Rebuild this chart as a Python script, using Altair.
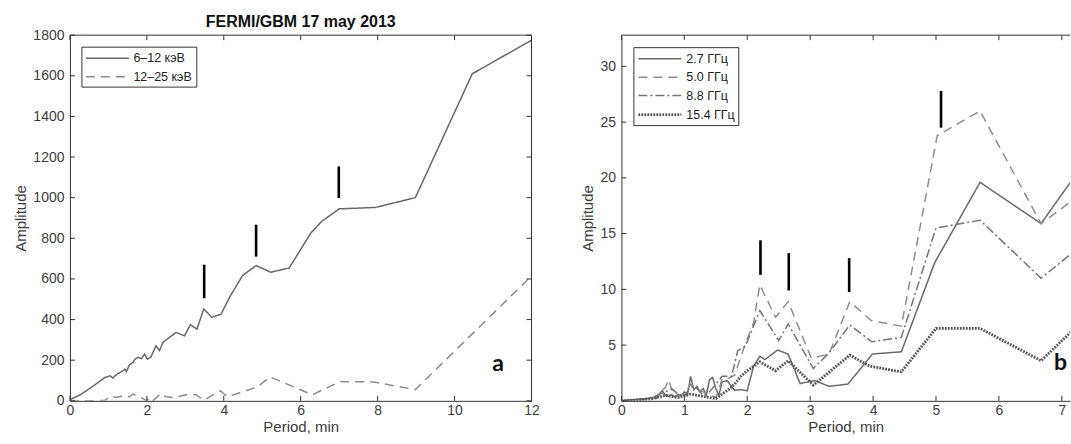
import altair as alt
import pandas as pd

# ---------------- Panel a: FERMI/GBM 17 may 2013 ----------------
a_series = ["6–12 кэВ", "12–25 кэВ"]
a_colors = ["#686868", "#8c8c8c"]
a_dashes = [[1, 0], [9, 6]]
a_widths = [1.5, 1.5]

a_x_6_12 = [0, 0.3, 0.65, 0.91, 1.04, 1.12, 1.17, 1.3, 1.38, 1.43, 1.47, 1.55, 1.64, 1.69,
            1.77, 1.86, 1.94, 2.01, 2.1, 2.24, 2.33, 2.42, 2.76, 2.98, 3.13, 3.3, 3.48, 3.69,
            3.93, 4.15, 4.49, 4.84, 5.22, 5.7, 6.26, 6.55, 7.0, 7.94, 8.98, 10.46, 12.0]
a_y_6_12 = [5, 33, 79, 115, 123, 112, 123, 140, 148, 156, 145, 178, 189, 205,
            214, 208, 230, 205, 214, 271, 247, 288, 337, 320, 375, 353, 452, 411,
            427, 510, 617, 666, 633, 654, 825, 884, 945, 952, 1000, 1610, 1775]

a_x_12_25 = [0, 0.65, 0.91, 1.08, 1.2, 1.38, 1.55, 1.64, 1.86, 1.99, 2.07, 2.16, 2.36, 2.5,
             2.72, 3.02, 3.28, 3.48, 3.91, 4.1, 4.88, 5.2, 6.3, 7.03, 7.9, 8.98, 12.0]
a_y_12_25 = [0, 0, 3, 25, 16, 25, 20, 33, 16, 0, 16, 0, 36, 20,
             16, 30, 30, 3, 49, 20, 69, 118, 30, 95, 93, 55, 615]

a_marker_x = [3.49, 4.84, 6.99]
a_marker_lo = [505, 710, 998]
a_marker_hi = [670, 867, 1154]

a_xticks = [0, 2, 4, 6, 8, 10, 12]
a_yticks = [0, 200, 400, 600, 800, 1000, 1200, 1400, 1600, 1800]
a_xdomain = [0, 12]
a_ydomain = [0, 1800]
a_letter = ["a"]
a_letter_x = [11.13]
a_letter_y = [180]
a_title = "FERMI/GBM 17 may 2013"

# ---------------- Panel b: radio ----------------
b_series = ["2.7 ГГц", "5.0 ГГц", "8.8 ГГц", "15.4 ГГц"]
b_colors = ["#6a6a6a", "#8e8e8e", "#747474", "#555555"]
b_dashes = [[1, 0], [9, 6], [9, 3, 2, 3], [1.8, 1.2]]
b_widths = [1.5, 1.5, 1.5, 2.8]

b_x_27 = [0, 0.1, 0.2, 0.3, 0.4, 0.5, 0.55, 0.6, 0.65, 0.7, 0.75, 0.8, 0.85, 0.9, 0.95, 1.0,
          1.05, 1.1, 1.15, 1.2, 1.25, 1.3, 1.35, 1.4, 1.45, 1.5, 1.55, 1.6, 1.68, 1.8, 1.9,
          2.0, 2.1, 2.2, 2.28, 2.48, 2.65, 2.84, 3.0, 3.08, 3.3, 3.6, 3.99, 4.45, 4.98, 5.7,
          6.67, 7.15]
b_y_27 = [0, 0.05, 0.1, 0.15, 0.2, 0.3, 0.2, 0.6, 0.9, 0.5, 0.4, 0.55, 0.35, 0.6, 0.45, 0.8,
          0.5, 2.2, 1.0, 1.3, 0.8, 1.1, 0.5, 1.9, 2.1, 1.1, 0.5, 1.7, 1.8, 0.95, 1.0,
          0.9, 3.1, 4.0, 3.7, 4.55, 4.2, 1.55, 1.75, 1.8, 1.3, 1.5, 4.2, 4.4, 12.4, 19.6,
          15.9, 19.7]

b_x_50 = [0, 0.2, 0.4, 0.5, 0.6, 0.65, 0.7, 0.75, 0.8, 0.9, 1.0, 1.1, 1.2, 1.3, 1.4, 1.5,
          1.55, 1.6, 1.7, 1.8, 1.95, 2.1, 2.2, 2.45, 2.65, 3.02, 3.3, 3.63, 3.97, 4.45, 5.02,
          5.7, 6.67, 7.15]
b_y_50 = [0, 0.1, 0.2, 0.3, 0.5, 1.0, 1.2, 1.9, 1.0, 0.4, 0.6, 1.5, 1.0, 0.8, 0.5, 0.3,
          1.0, 2.0, 2.0, 2.3, 4.8, 7.0, 10.4, 7.5, 8.9, 3.8, 4.2, 8.9, 7.2, 6.7, 23.8,
          26.0, 15.9, 17.9]

b_x_88 = [0, 0.3, 0.5, 0.6, 0.7, 0.8, 0.9, 1.0, 1.1, 1.2, 1.3, 1.4, 1.5, 1.6, 1.75, 1.85,
          1.97, 2.2, 2.5, 2.65, 3.05, 3.3, 3.63, 3.98, 4.45, 5.0, 5.7, 6.67, 7.15]
b_y_88 = [0, 0.1, 0.3, 0.6, 0.8, 1.1, 0.6, 0.4, 1.3, 1.1, 0.5, 0.8, 1.5, 2.2, 2.2, 4.5,
          4.9, 8.1, 5.4, 6.9, 2.9, 4.3, 6.8, 5.3, 5.7, 15.5, 16.2, 11.0, 13.2]

b_x_154 = [0, 0.3, 0.5, 0.7, 0.9, 1.1, 1.3, 1.5, 1.6, 1.7, 1.8, 1.9, 2.0, 2.2, 2.45, 2.65,
           3.05, 3.63, 3.95, 4.45, 5.0, 5.7, 6.67, 7.15]
b_y_154 = [0, 0.1, 0.2, 0.5, 0.3, 0.6, 0.4, 0.2, 0.6, 1.0, 1.5, 2.2, 2.7, 3.5, 2.7, 3.6,
           1.4, 4.1, 3.1, 2.6, 6.5, 6.5, 3.6, 6.2]

b_marker_x = [2.21, 2.66, 3.62, 5.08]
b_marker_lo = [11.3, 9.9, 9.75, 24.5]
b_marker_hi = [14.4, 13.25, 12.8, 27.8]

b_xticks = [0, 1, 2, 3, 4, 5, 6, 7]
b_yticks = [0, 5, 10, 15, 20, 25, 30]
b_xdomain = [0, 7.13]
b_ydomain = [0, 32.8]
b_letter = ["b"]
b_letter_x = [6.98]
b_letter_y = [3.35]

FONT = "Liberation Sans"
AXIS_COLOR = "#333333"
TEXT_COLOR = "#3c3c3c"
TICK_PX = 5
# legend symbol: short nominal size so rows stay compact, long custom path for the line sample
SYM_R = 7
SYM_LEN = 43
SYM_PATH = "M-{0:.3f},0H{0:.3f}".format(SYM_LEN / 2 / SYM_R)
SYM_SHIFT = SYM_LEN / 2 - SYM_R


def lines_frame(names, xs_list, ys_list):
    rows = []
    for name, xs, ys in zip(names, xs_list, ys_list):
        for i, (xv, yv) in enumerate(zip(xs, ys)):
            rows.append({"x": xv, "y": yv, "series": name, "idx": i})
    return pd.DataFrame(rows)


def panel(lines, names, colors, dashes, widths, mk_x, mk_lo, mk_hi, xdom, ydom,
          xticks, yticks, width, height, legend_xy, letter, lx, ly,
          right_frame, right_ticks, title=None):
    xs = alt.Scale(domain=xdom, nice=False, zero=False)
    ys = alt.Scale(domain=ydom, nice=False, zero=False)
    xaxis = alt.Axis(values=xticks, ticks=False, grid=False, format="d",
                     domainColor=AXIS_COLOR, domainWidth=1,
                     labelFontSize=14, labelColor=TEXT_COLOR, labelPadding=3,
                     labelFlush=False, labelOverlap=False, labelFont=FONT,
                     title="Period, min", titleFontSize=15, titleFontWeight="normal",
                     titleColor=TEXT_COLOR, titlePadding=2, titleFont=FONT)
    yaxis = alt.Axis(values=yticks, ticks=False, grid=False, format="d",
                     domainColor=AXIS_COLOR, domainWidth=1,
                     labelFontSize=14, labelColor=TEXT_COLOR, labelPadding=6,
                     labelFlush=False, labelOverlap=False, labelFont=FONT,
                     title="Amplitude", titleFontSize=15, titleFontWeight="normal",
                     titleColor=TEXT_COLOR, titlePadding=4, titleFont=FONT)
    X = alt.X("x:Q", scale=xs, axis=xaxis)
    Y = alt.Y("y:Q", scale=ys, axis=yaxis)

    legend = alt.Legend(orient="none", legendX=legend_xy[0], legendY=legend_xy[1],
                        title=None, symbolType=SYM_PATH, symbolSize=(2 * SYM_R) ** 2,
                        symbolOffset=SYM_SHIFT,
                        labelOffset=SYM_LEN - 2 * SYM_R - SYM_SHIFT + 3.5,
                        labelFontSize=12.5, labelFont=FONT, labelColor="#222222",
                        strokeColor=AXIS_COLOR, fillColor="white", padding=3.5,
                        rowPadding=3.5)

    line = alt.Chart(lines).mark_line(clip=True).encode(
        x=X, y=Y,
        color=alt.Color("series:N", scale=alt.Scale(domain=names, range=colors), legend=legend),
        strokeDash=alt.StrokeDash("series:N", scale=alt.Scale(domain=names, range=dashes),
                                  legend=legend),
        strokeWidth=alt.StrokeWidth("series:N",
                                    scale=alt.Scale(type="ordinal", domain=names, range=widths),
                                    legend=legend),
        order=alt.Order("idx:Q"),
    )

    markers = alt.Chart(pd.DataFrame({"x": mk_x, "y": mk_lo, "y2": mk_hi})).mark_rule(
        color="black", strokeWidth=2.6).encode(x=X, y=Y, y2=alt.Y2("y2:Q"))

    ylen = (ydom[1] - ydom[0]) * TICK_PX / height
    xlen = (xdom[1] - xdom[0]) * TICK_PX / width

    vt = pd.DataFrame({
        "x": list(xticks) + list(xticks),
        "y": [ydom[0]] * len(xticks) + [ydom[1] - ylen] * len(xticks),
        "y2": [ydom[0] + ylen] * len(xticks) + [ydom[1]] * len(xticks),
    })
    hx = [xdom[0]] * len(yticks)
    hx2 = [xdom[0] + xlen] * len(yticks)
    hy = list(yticks)
    if right_ticks:
        hx += [xdom[1] - xlen] * len(yticks)
        hx2 += [xdom[1]] * len(yticks)
        hy += list(yticks)
    ht = pd.DataFrame({"x": hx, "x2": hx2, "y": hy})

    vticks = alt.Chart(vt).mark_rule(color=AXIS_COLOR, strokeWidth=1).encode(
        x=X, y=Y, y2=alt.Y2("y2:Q"))
    hticks = alt.Chart(ht).mark_rule(color=AXIS_COLOR, strokeWidth=1).encode(
        x=X, x2=alt.X2("x2:Q"), y=Y)

    top = alt.Chart(pd.DataFrame({"x": [xdom[0]], "x2": [xdom[1]], "y": [ydom[1]]})).mark_rule(
        color=AXIS_COLOR, strokeWidth=1).encode(x=X, x2=alt.X2("x2:Q"), y=Y)
    layers = [line, markers, vticks, hticks, top]
    if right_frame:
        right = alt.Chart(pd.DataFrame({"x": [xdom[1]], "y": [ydom[0]], "y2": [ydom[1]]})).mark_rule(
            color=AXIS_COLOR, strokeWidth=1).encode(x=X, y=Y, y2=alt.Y2("y2:Q"))
        layers.append(right)

    txt = alt.Chart(pd.DataFrame({"x": lx, "y": ly, "t": letter})).mark_text(
        font="Lato", fontSize=23, fontWeight="bold", color="#111111",
        align="center", baseline="middle").encode(x=X, y=Y, text="t:N")
    layers.append(txt)

    props = dict(width=width, height=height)
    if title:
        props["title"] = alt.Title(text=title, fontSize=16, fontWeight="bold",
                                   color="#111111", font=FONT, anchor="middle", offset=-2)
    return alt.layer(*layers).properties(**props)


a_lines = lines_frame(a_series, [a_x_6_12, a_x_12_25], [a_y_6_12, a_y_12_25])
b_lines = lines_frame(b_series, [b_x_27, b_x_50, b_x_88, b_x_154],
                      [b_y_27, b_y_50, b_y_88, b_y_154])

left = panel(a_lines, a_series, a_colors, a_dashes, a_widths, a_marker_x, a_marker_lo,
             a_marker_hi, a_xdomain, a_ydomain, a_xticks, a_yticks, 462, 366,
             (11.5, 11.5), a_letter, a_letter_x, a_letter_y, True, True, title=a_title)
right = panel(b_lines, b_series, b_colors, b_dashes, b_widths, b_marker_x, b_marker_lo,
              b_marker_hi, b_xdomain, b_ydomain, b_xticks, b_yticks, 449, 366,
              (12, 12), b_letter, b_letter_x, b_letter_y, False, False)

chart = alt.hconcat(left, right, spacing=90, bounds="flush").resolve_scale(
    color="independent", strokeDash="independent", strokeWidth="independent"
).properties(
    padding={"left": 13, "top": 13, "right": 0, "bottom": 0},
    background="white",
).configure_view(stroke="transparent")

chart.save("out.html", embed_options={"renderer": "svg", "actions": False})
